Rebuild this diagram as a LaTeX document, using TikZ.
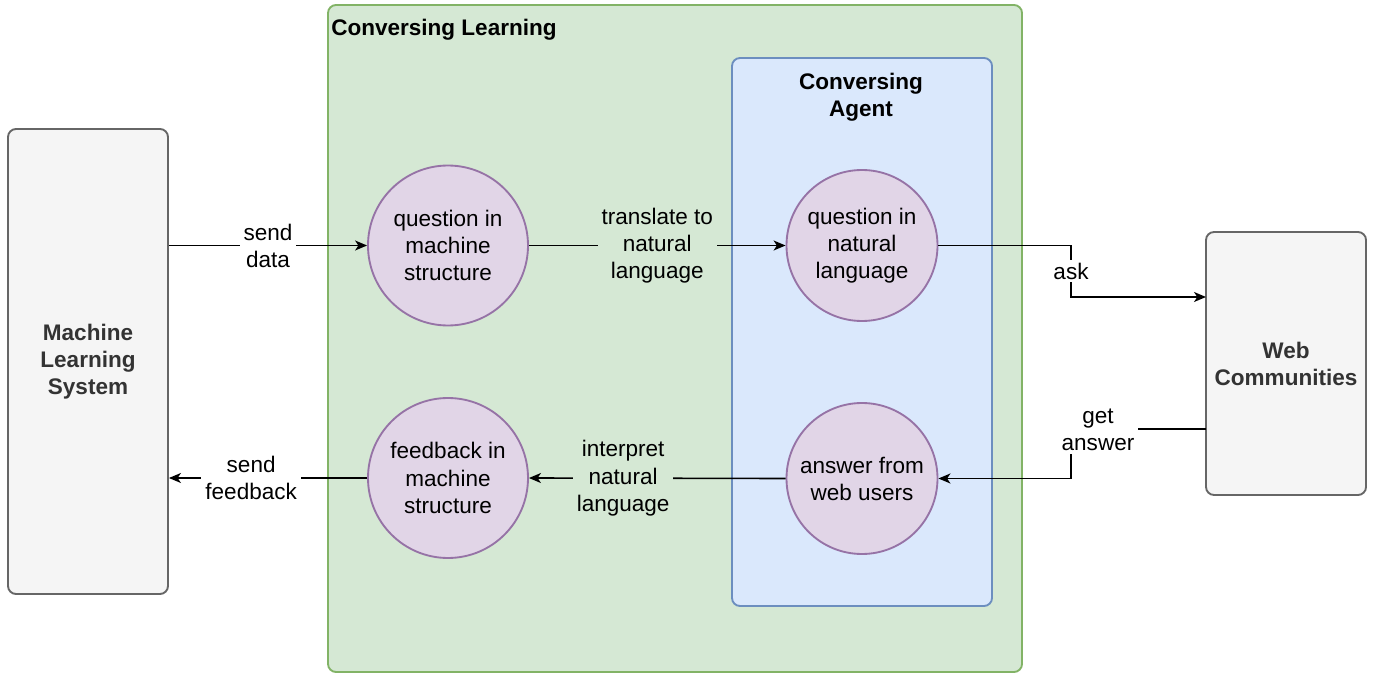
\documentclass[tikz,border=0pt]{standalone}
\usepackage{fontspec}
\setmainfont{Liberation Sans}
\usetikzlibrary{arrows.meta}
\definecolor{grayfill}{HTML}{F5F5F5}
\definecolor{grayline}{HTML}{666666}
\definecolor{graytext}{HTML}{333333}
\definecolor{greenfill}{HTML}{D5E8D4}
\definecolor{greenline}{HTML}{82B366}
\definecolor{bluefill}{HTML}{DAE8FC}
\definecolor{blueline}{HTML}{6C8EBF}
\definecolor{purplefill}{HTML}{E1D5E7}
\definecolor{purpleline}{HTML}{9673A6}
\begin{document}
\begin{tikzpicture}[x=0.75pt,y=-0.75pt,
  every node/.style={font=\fontsize{16.9}{20.3}\selectfont, inner sep=0pt},
  sysbox/.style={draw=grayline, fill=grayfill, line width=1.4pt, rounded corners=6pt,
    minimum width=120pt, text=graytext, font=\fontsize{16.9}{20.3}\selectfont\bfseries, align=center},
  groupbox/.style={line width=1.4pt, rounded corners=6pt},
  stepcircle/.style={circle, draw=purpleline, fill=purplefill, line width=1.4pt, align=center},
  flow/.style={line width=1.2pt, -{Stealth[length=9pt,width=7.5pt,inset=2.5pt]}},
  lbl/.style={align=center, inner xsep=3pt, inner ysep=2pt}
]
\useasboundingbox (0,0) rectangle (1382,677);

% containers
\node[groupbox, draw=greenline, fill=greenfill, minimum width=520.5pt, minimum height=500.25pt] (learn) at (675,338.5) {};
\node[anchor=west, font=\fontsize{16.9}{20.3}\selectfont\bfseries] (learntitle) at (331,29.5) {Conversing Learning};
\node[groupbox, draw=blueline, fill=bluefill, minimum width=195pt, minimum height=411pt] (agent) at (862,332) {};
\node[align=center, font=\fontsize{16.9}{20.3}\selectfont\bfseries] (agenttitle) at (861,97.5) {Conversing\\Agent};

% outer systems
\node[sysbox, minimum height=348.75pt] (ml) at (88,361.5) {Machine\\Learning\\System};
\node[sysbox, minimum height=197.25pt] (web) at (1286,363.5) {Web\\Communities};

% processing steps
\node[stepcircle, minimum size=120pt] (qms) at (448,245.5) {question in\\machine\\structure};
\node[stepcircle, minimum size=120pt] (fms) at (448,478) {feedback in\\machine\\structure};
\node[stepcircle, minimum size=113.25pt] (qnl) at (862,245.5) {question in\\natural\\language};
\node[stepcircle, minimum size=113.25pt] (anl) at (862,478.5) {answer from\\web users};

% routing points
\coordinate (bend) at (1071,0);
\coordinate (askin) at (1206,297);
\coordinate (ansout) at (1206,429);

% connectors
\draw[flow] (qms.west -| ml.east) -- node[lbl, fill=white] {send\\data} (qms.west);
\draw[flow] (qms.east) -- node[lbl, fill=greenfill] {translate to\\natural\\language} (qnl.west);
\draw[flow] (qnl.east) -- (qnl.east -| bend) -- node[lbl, fill=white] {ask} (askin -| bend) -- (askin);
\draw[flow] (ansout) -- (ansout -| bend) -- (anl.east -| bend) -- (anl.east);
\node[lbl, fill=white] (getans) at (1098,430) {get\\answer};
\draw[flow] (anl.west) -- node[lbl, fill=greenfill, pos=0.633] {interpret\\natural\\language} (fms.east);
\draw[flow] (fms.west) -- node[lbl, fill=white, pos=0.585] {send\\feedback} (fms.west -| ml.east);
\end{tikzpicture}
\end{document}
